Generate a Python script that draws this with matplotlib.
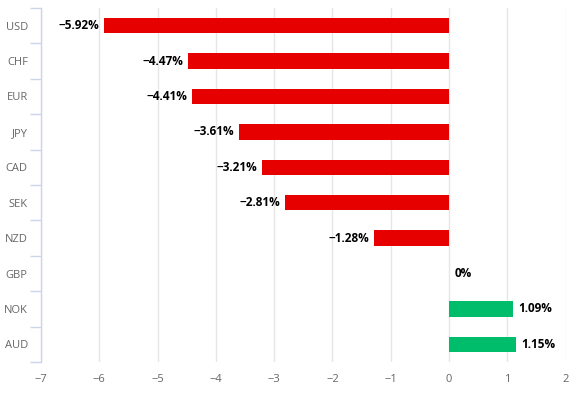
import numpy as np
import matplotlib
matplotlib.use("Agg")
from matplotlib import pyplot as plt

currencies = ["USD", "CHF", "EUR", "JPY", "CAD", "SEK", "NZD", "GBP", "NOK", "AUD"]
changes = [-5.92, -4.47, -4.41, -3.61, -3.21, -2.81, -1.28, 0.0, 1.09, 1.15]
xticks = [-7, -6, -5, -4, -3, -2, -1, 0, 1, 2]

plt.rcParams['font.family'] = ['Open Sans', 'DejaVu Sans']

fig = plt.figure(figsize=(5.73, 3.93), dpi=100)
ax = fig.add_axes([41/573, 1-362/393, (565.6-41)/573, (362-8)/393])

pos = np.arange(len(currencies))
cols = ["#e60000" if v < 0 else "#00bd6b" for v in changes]
ax.barh(pos, changes, height=0.43, color=cols, zorder=2)

for p, v in zip(pos, changes):
	txt = "0%" if v == 0 else ("%.2f%%" % v).replace("-", "\u2212")
	if v < 0:
		ax.annotate(txt, (v, p), xytext=(-3.5, 0), textcoords="offset points",
					ha="right", va="center", fontsize=8.5, fontweight="bold",
					color="#000000")
	else:
		ax.annotate(txt, (v, p), xytext=(4, 0), textcoords="offset points",
					ha="left", va="center", fontsize=8.5, fontweight="bold",
					color="#000000")

ax.set_yticks(pos)
ax.set_yticklabels(currencies)
ax.set_yticks(np.arange(-0.5, len(currencies), 1), minor=True)
ax.set_ylim(len(currencies)-0.5, -0.5)
ax.set_xlim(-7, 2)
ax.set_xticks(xticks)
ax.set_xticklabels([str(t).replace("-", "\u2212") for t in xticks])

ax.tick_params(axis="y", which="major", length=0, pad=9.5, labelsize=8, labelcolor="#666666")
ax.tick_params(axis="y", which="minor", length=8, color="#ccd6eb", width=1)
ax.tick_params(axis="x", length=0, pad=9, labelsize=8, labelcolor="#666666")

ax.grid(axis="x", color="#e6e6e6", linewidth=1, zorder=0)
for s in ["top", "right", "bottom"]:
	ax.spines[s].set_visible(False)
ax.spines["left"].set_color("#ccd6eb")
ax.spines["left"].set_linewidth(1)

plt.savefig("out.png", dpi=100)
